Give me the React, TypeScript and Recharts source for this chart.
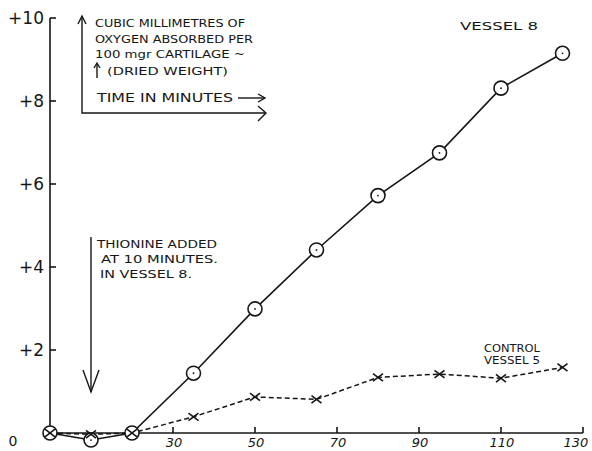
import { LineChart, Line, XAxis, YAxis } from "recharts";

const INK = "#161616";
const FONT = "'DejaVu Sans', sans-serif";

// time in minutes, and cubic mm of oxygen absorbed per 100 mgr cartilage
const minutes = [0, 10, 20, 35, 50, 65, 80, 95, 110, 125];
const vessel8 = [0, -0.17, 0, 1.44, 2.99, 4.41, 5.72, 6.75, 8.31, 9.15];
const control5 = [0, -0.03, 0, 0.39, 0.87, 0.81, 1.34, 1.42, 1.32, 1.58];
const yTicks = [0, 2, 4, 6, 8, 10];
const xTicks = [30, 50, 70, 90, 110, 130];

const data = minutes.map((t, i) => ({ t, vessel8: vessel8[i], control5: control5[i] }));

function RingDot(props: any) {
  const { cx, cy } = props;
  if (cx == null || cy == null) return null;
  return (
    <g>
      <circle cx={cx} cy={cy} r={7} fill="#fff" stroke={INK} strokeWidth={1.6} />
      <circle cx={cx} cy={cy} r={0.9} fill={INK} />
    </g>
  );
}

function CrossDot(props: any) {
  const { cx, cy } = props;
  if (cx == null || cy == null) return null;
  const w = 5;
  const h = 3.8;
  return (
    <g stroke={INK} strokeWidth={1.6}>
      <line x1={cx - w} y1={cy - h} x2={cx + w} y2={cy + h} />
      <line x1={cx - w} y1={cy + h} x2={cx + w} y2={cy - h} />
    </g>
  );
}

// tickSize 6 + tickMargin 4 => axis sits 10px from label anchor
function YTick(props: any) {
  const { x, y, payload } = props;
  const axisX = x + 10;
  const v = payload.value;
  if (v === 0) {
    return (
      <text x={13} y={y + 13} textAnchor="middle" fontSize={14} fontFamily={FONT} fill={INK}>
        0
      </text>
    );
  }
  return (
    <g>
      <line x1={axisX} x2={axisX + 6} y1={y} y2={y} stroke={INK} strokeWidth={1.6} />
      <text x={axisX - 6} y={y + 6} textAnchor="end" fontSize={17} fontFamily={FONT} fill={INK}>
        {"+" + v}
      </text>
    </g>
  );
}

function XTick(props: any) {
  const { x, y, payload } = props;
  const axisY = y - 10;
  const shift = payload.value === 130 ? -7 : 1;
  return (
    <g>
      <line x1={x} x2={x} y1={axisY} y2={axisY - 6} stroke={INK} strokeWidth={1.6} />
      <text x={x + shift} y={axisY + 14} textAnchor="middle" fontSize={13} fontStyle="italic" fontFamily={FONT} fill={INK}>
        {payload.value}
      </text>
    </g>
  );
}

function Note(props: { x: number; y: number; len: number; children: string; size?: number }) {
  return (
    <text
      x={props.x}
      y={props.y}
      textLength={props.len}
      lengthAdjust="spacingAndGlyphs"
      fontSize={props.size || 11}
      fontFamily={FONT}
      fill={INK}
    >
      {props.children}
    </text>
  );
}

export default function App() {
  return (
    <div style={{ position: "absolute", left: 0, top: 0, width: 592, height: 451, background: "#fff" }}>
      <style>{`.recharts-wrapper [clip-path] { clip-path: none !important; }`}</style>
      <LineChart width={592} height={451} data={data} margin={{ top: 18, right: 9, left: 0, bottom: 0 }}>
        <XAxis
          dataKey="t"
          type="number"
          domain={[0, 130]}
          ticks={xTicks}
          interval={0}
          height={18}
          tickLine={false}
          tickSize={6}
          tickMargin={4}
          tick={<XTick />}
          axisLine={{ stroke: INK, strokeWidth: 1.6 }}
        />
        <YAxis
          type="number"
          domain={[0, 10]}
          allowDataOverflow
          ticks={yTicks}
          interval={0}
          width={50}
          tickLine={false}
          tickSize={6}
          tickMargin={4}
          tick={<YTick />}
          axisLine={{ stroke: INK, strokeWidth: 1.6 }}
        />
        <Line
          type="linear"
          dataKey="vessel8"
          stroke={INK}
          strokeWidth={1.6}
          dot={<RingDot />}
          activeDot={false}
          isAnimationActive={false}
        />
        <Line
          type="linear"
          dataKey="control5"
          stroke={INK}
          strokeWidth={1.5}
          strokeDasharray="5 3"
          dot={<CrossDot />}
          activeDot={false}
          isAnimationActive={false}
        />
      </LineChart>
      <svg width={592} height={451} style={{ position: "absolute", left: 0, top: 0, pointerEvents: "none" }}>
        <g stroke={INK} strokeWidth={1.4} fill="none">
          {/* key box: y arrow up, x arrow right */}
          <polyline points="82,17 82,113 265,113" />
          <polyline points="78,24 82,16 86,24" />
          <polyline points="258,106 266,113 258,121" />
          {/* small arrow before (DRIED WEIGHT) */}
          <line x1={97} y1={78} x2={97} y2={64} />
          <polyline points="94,68 97,63 100,68" />
          {/* arrow after TIME IN MINUTES */}
          <line x1={238} y1={98} x2={264} y2={98} />
          <polyline points="258,94 265,98 258,102" />
          {/* thionine arrow */}
          <line x1={91} y1={237} x2={91} y2={392} />
          <polyline points="83,370 91,392 99,370" />
        </g>
        <Note x={95} y={27} len={150}>CUBIC MILLIMETRES OF</Note>
        <Note x={95} y={43} len={158}>OXYGEN ABSORBED PER</Note>
        <Note x={95} y={58} len={150}>100 mgr CARTILAGE ~</Note>
        <Note x={107} y={75} len={121}>(DRIED WEIGHT)</Note>
        <Note x={97} y={102} len={136} size={12}>TIME IN MINUTES</Note>
        <Note x={460} y={30} len={78}>VESSEL 8</Note>
        <Note x={97} y={248} len={120}>THIONINE ADDED</Note>
        <Note x={101} y={263} len={117}>AT 10 MINUTES.</Note>
        <Note x={100} y={278} len={92}>IN VESSEL 8.</Note>
        <Note x={484} y={352} len={56} size={10}>CONTROL</Note>
        <Note x={484} y={364} len={56} size={10}>VESSEL 5</Note>
      </svg>
    </div>
  );
}
